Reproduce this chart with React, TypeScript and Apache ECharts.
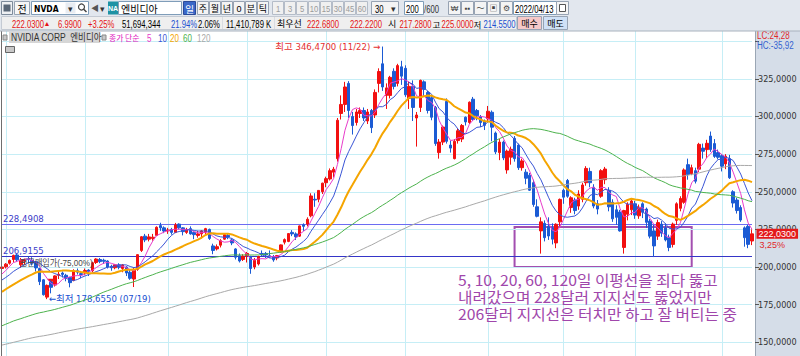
import React, { useEffect, useRef } from "react";
import * as echarts from "echarts";

const dates: string[] = [
  "2021/06/30",
  "2021/07/01","2021/07/02","2021/07/06","2021/07/07","2021/07/08","2021/07/09","2021/07/12","2021/07/13","2021/07/14","2021/07/15","2021/07/16","2021/07/19","2021/07/20","2021/07/21","2021/07/22","2021/07/23","2021/07/26","2021/07/27","2021/07/28","2021/07/29","2021/07/30",
  "2021/08/02","2021/08/03","2021/08/04","2021/08/05","2021/08/06","2021/08/09","2021/08/10","2021/08/11","2021/08/12","2021/08/13","2021/08/16","2021/08/17","2021/08/18","2021/08/19","2021/08/20","2021/08/23","2021/08/24","2021/08/25","2021/08/26","2021/08/27","2021/08/30","2021/08/31",
  "2021/09/01","2021/09/02","2021/09/03","2021/09/07","2021/09/08","2021/09/09","2021/09/10","2021/09/13","2021/09/14","2021/09/15","2021/09/16","2021/09/17","2021/09/20","2021/09/21","2021/09/22","2021/09/23","2021/09/24","2021/09/27","2021/09/28","2021/09/29","2021/09/30",
  "2021/10/01","2021/10/04","2021/10/05","2021/10/06","2021/10/07","2021/10/08","2021/10/11","2021/10/12","2021/10/13","2021/10/14","2021/10/15","2021/10/18","2021/10/19","2021/10/20","2021/10/21","2021/10/22","2021/10/25","2021/10/26","2021/10/27","2021/10/28","2021/10/29",
  "2021/11/01","2021/11/02","2021/11/03","2021/11/04","2021/11/05","2021/11/08","2021/11/09","2021/11/10","2021/11/11","2021/11/12","2021/11/15","2021/11/16","2021/11/17","2021/11/18","2021/11/19","2021/11/22","2021/11/23","2021/11/24","2021/11/26","2021/11/29","2021/11/30",
  "2021/12/01","2021/12/02","2021/12/03","2021/12/06","2021/12/07","2021/12/08","2021/12/09","2021/12/10","2021/12/13","2021/12/14","2021/12/15","2021/12/16","2021/12/17","2021/12/20","2021/12/21","2021/12/22","2021/12/23","2021/12/27","2021/12/28","2021/12/29","2021/12/30","2021/12/31",
  "2022/01/03","2022/01/04","2022/01/05","2022/01/06","2022/01/07","2022/01/10","2022/01/11","2022/01/12","2022/01/13","2022/01/14","2022/01/18","2022/01/19","2022/01/20","2022/01/21","2022/01/24","2022/01/25","2022/01/26","2022/01/27","2022/01/28","2022/01/31",
  "2022/02/01","2022/02/02","2022/02/03","2022/02/04","2022/02/07","2022/02/08","2022/02/09","2022/02/10","2022/02/11","2022/02/14","2022/02/15","2022/02/16","2022/02/17","2022/02/18","2022/02/22","2022/02/23","2022/02/24","2022/02/25","2022/02/28",
  "2022/03/01","2022/03/02","2022/03/03","2022/03/04","2022/03/07","2022/03/08","2022/03/09","2022/03/10","2022/03/11","2022/03/14","2022/03/15","2022/03/16","2022/03/17","2022/03/18","2022/03/21","2022/03/22","2022/03/23","2022/03/24","2022/03/25","2022/03/28","2022/03/29","2022/03/30","2022/03/31",
  "2022/04/01","2022/04/04","2022/04/05","2022/04/06","2022/04/07","2022/04/08","2022/04/11","2022/04/12","2022/04/13",
];

const opens: number[] = [
  199.0,
  200.1,202.5,205.0,208.0,201.5,204.0,205.5,204.5,203.5,199.0,191.5,180.0,190.0,188.0,194.5,196.0,194.5,193.0,191.0,197.5,195.6,
  196.0,198.0,197.5,203.0,205.0,204.5,204.0,200.5,199.5,201.5,199.0,200.0,196.5,192.0,198.5,211.0,220.5,218.5,219.0,221.0,227.5,226.0,
  224.0,225.0,223.0,228.5,226.0,223.0,225.5,223.0,221.0,222.0,223.5,225.0,214.0,212.0,214.5,218.5,221.0,218.0,212.0,207.5,205.0,
  207.5,207.0,200.0,202.0,209.0,209.0,207.5,207.0,206.0,210.0,216.5,217.0,223.0,222.0,220.5,228.0,228.5,234.0,245.0,245.0,250.0,
  256.0,258.5,263.0,272.0,302.0,308.0,322.0,300.0,296.0,302.0,304.0,297.0,304.0,301.0,322.0,335.0,314.0,314.0,330.0,322.0,333.0,
  332.0,312.0,320.0,299.0,306.0,323.0,316.0,312.5,306.0,276.0,283.0,310.0,281.0,272.0,284.0,285.0,299.5,296.0,311.5,304.0,300.0,297.0,
  298.5,302.8,289.0,276.0,283.0,264.5,273.0,285.5,281.0,266.0,263.0,261.0,256.0,240.0,224.0,229.0,227.0,226.0,216.0,230.0,
  251.0,257.5,239.5,244.5,240.5,245.0,256.0,263.5,253.0,242.0,247.0,258.0,251.0,243.0,238.0,236.5,213.0,235.0,238.0,
  242.0,234.0,242.0,238.5,230.5,224.0,220.5,228.5,226.0,219.5,215.0,231.0,239.0,243.0,268.0,262.0,264.0,265.0,279.0,278.0,287.0,282.0,276.0,
  274.0,268.5,272.0,250.0,244.5,239.5,226.0,227.0,217.28,
];

const closes: number[] = [
  200.0,
  201.9,204.4,207.7,204.8,204.7,204.6,204.9,202.6,199.4,190.3,181.6,187.8,186.5,194.1,195.2,195.1,192.9,189.6,197.3,196.6,195.0,
  197.7,197.1,202.8,205.3,203.6,203.8,200.0,199.5,201.5,199.8,201.4,196.0,192.5,197.9,208.2,220.1,218.0,220.0,219.8,226.4,226.0,223.9,
  224.6,223.0,228.0,226.0,223.5,224.5,222.0,221.5,222.0,224.0,225.5,219.0,211.0,213.5,217.5,221.5,220.0,216.0,206.5,204.0,207.2,
  209.0,199.0,204.5,207.0,208.3,208.0,206.6,204.7,207.6,214.7,218.2,222.2,222.0,220.0,227.3,227.0,231.7,247.2,244.5,250.9,255.7,
  258.7,264.0,265.0,297.5,308.0,319.6,304.0,294.0,303.0,304.0,299.0,303.0,292.6,316.0,329.9,319.6,319.0,326.0,320.0,333.8,326.8,
  314.4,320.0,306.0,301.0,324.0,318.0,304.0,299.5,282.0,283.0,293.0,283.5,279.0,283.5,290.5,294.0,296.4,309.5,298.0,300.5,296.0,294.1,
  303.5,292.9,276.5,283.0,272.5,277.0,278.2,272.0,266.0,270.5,259.0,251.0,241.5,233.7,230.0,219.5,220.6,218.5,228.4,244.9,
  246.4,247.0,246.0,237.5,248.5,254.5,265.5,256.0,240.5,238.5,264.0,265.1,240.0,232.0,233.0,224.0,237.5,241.6,243.9,
  234.5,239.7,236.4,229.7,220.5,214.0,229.5,222.5,218.0,213.0,228.5,242.0,245.5,264.5,261.5,266.0,257.0,281.5,276.9,282.2,278.0,273.5,272.9,
  267.0,273.6,259.3,242.5,237.5,231.2,219.5,215.04,222.03,
];

const lows: number[] = [
  197.6,
  199.0,201.6,203.0,203.3,199.5,201.5,202.3,201.0,197.0,188.0,181.0,178.655,182.5,187.0,192.0,193.0,190.5,186.5,190.5,195.0,192.5,
  194.5,194.0,196.5,202.0,202.5,202.0,199.0,197.5,198.5,198.5,196.5,194.0,191.5,186.7,197.5,210.0,216.5,217.0,217.5,220.5,224.0,222.5,
  222.0,221.5,222.5,225.0,221.0,222.0,221.5,218.5,219.5,219.0,221.5,218.0,208.5,211.0,213.0,218.0,218.5,214.5,205.0,203.0,204.0,
  203.0,195.5,198.5,201.0,207.0,206.0,206.0,203.5,204.5,209.5,215.0,216.5,220.5,218.0,220.0,224.0,227.0,233.0,240.0,243.0,248.5,
  253.0,257.5,259.5,270.0,298.0,303.0,299.0,288.0,294.0,299.0,297.0,295.0,289.0,299.0,316.0,317.0,305.0,312.0,318.0,320.0,321.0,
  313.0,305.0,297.0,280.0,303.0,313.0,302.0,297.5,280.5,272.0,281.0,282.0,276.0,271.5,282.0,283.0,294.0,295.0,297.0,297.5,293.0,291.0,
  297.0,283.5,275.0,271.0,271.0,262.0,268.0,270.0,264.5,264.0,255.0,250.5,240.0,233.0,208.9,217.0,218.0,215.0,212.5,227.0,
  242.0,246.0,236.0,235.0,238.0,243.0,254.0,253.0,239.0,235.0,246.0,255.0,237.0,230.0,228.0,223.5,208.9,231.0,234.5,
  232.0,232.0,232.5,226.0,219.0,206.6,218.0,220.0,217.0,210.5,213.0,228.0,237.0,242.0,258.0,261.0,255.5,263.0,272.0,272.5,276.5,272.5,271.5,
  263.5,265.0,258.5,239.5,235.5,230.0,213.5,212.5,214.55,
];

const highs: number[] = [
  201.0,
  202.6,205.0,208.2,208.75,206.0,205.6,207.0,206.5,204.0,199.5,192.0,188.4,191.0,194.5,197.5,197.0,195.5,193.5,198.5,199.0,196.5,
  199.0,198.5,203.5,205.8,206.0,205.5,204.5,201.5,202.0,202.5,202.0,200.5,198.0,199.5,208.5,220.5,222.0,222.0,222.0,227.0,229.4,227.0,
  226.0,226.0,229.3,229.0,226.5,226.0,227.0,223.5,224.0,224.5,226.0,225.5,215.5,215.0,218.5,222.5,222.0,219.0,212.5,209.0,208.5,
  210.0,207.5,206.0,207.5,211.0,210.0,211.0,208.0,208.0,215.0,219.0,222.5,224.5,223.0,227.6,229.0,233.0,249.0,249.0,251.0,256.0,
  260.0,265.5,266.5,299.0,314.0,323.0,323.5,303.0,305.0,306.0,306.0,305.0,305.0,318.0,332.0,346.47,322.0,327.0,332.0,335.0,337.0,
  334.0,323.0,324.0,303.0,324.5,324.0,317.0,314.0,307.0,285.0,294.0,312.0,284.0,285.0,292.0,295.0,300.0,310.0,313.0,305.0,301.0,298.0,
  307.0,304.0,290.0,285.0,284.0,278.0,280.0,287.0,282.0,272.0,265.0,262.5,258.0,245.0,233.0,231.0,233.0,229.0,229.0,245.5,
  252.0,258.5,247.0,246.0,251.0,256.0,267.0,266.0,255.0,244.5,265.0,266.5,253.0,245.0,241.0,238.0,238.0,243.0,245.0,
  244.0,241.5,243.0,239.5,232.0,228.0,231.5,230.5,229.0,221.5,229.5,243.0,247.0,265.5,272.0,268.0,266.0,282.5,282.0,284.5,290.0,285.0,278.0,
  275.0,275.0,274.5,251.0,246.0,241.0,227.0,228.0,225.0,
];

// closes before the visible window (Jan-Jun 2021), used for the moving averages
const prevCloses: number[] = [
  131.1,133.6,125.9,133.4,132.8,135.4,131.7,133.8,130.8,127.9,130.1,135.6,137.4,137.6,136.7,134.0,129.6,132.6,129.9,
  132.0,135.1,134.5,136.8,136.6,145.1,148.8,149.1,150.6,149.9,149.1,147.2,147.7,147.3,141.5,141.7,144.5,134.7,137.2,
  138.8,136.0,128.8,127.4,129.3,119.3,129.6,127.4,134.3,131.5,133.5,135.0,131.9,125.3,128.2,132.8,133.5,128.0,126.3,129.6,128.7,130.8,133.5,
  137.3,138.9,137.7,139.7,143.3,144.9,154.0,158.8,153.0,155.0,154.0,152.5,151.6,154.4,150.9,156.3,157.0,153.9,152.1,152.2,150.1,
  145.9,143.1,141.9,143.3,146.4,136.9,139.5,134.6,140.1,144.6,145.1,141.2,143.4,146.8,144.9,152.8,155.6,157.7,157.0,162.4,
  163.1,169.2,166.9,173.4,176.2,176.5,175.4,176.9,177.3,179.3,175.4,178.1,185.3,186.1,186.6,188.8,190.2,190.6,190.8,194.9,200.7,
];

const maPeriods = [5, 10, 20, 60, 120];
const maColors = ["#e83ccb", "#3a55d6", "#f5a500", "#4db34d", "#a9a9a9"];
const maWidths = [1, 1, 2, 1, 1];

const supportLevels = [228.4908, 206.9155];
const supportLabels = ["228,4908", "206,9155"];
const supportColors = ["#6c6cf2", "#3535c8"];

const highIndex = 101;
const highValue = 346.47;
const highLabel = "최고 346,4700 (11/22) →";
const lowIndex = 12;
const lowValue = 178.655;
const lowLabel = "←최저 178,6550 (07/19)";
const buyMarkIndex = 13;
const buyMarkValue = 190.6;
const lastIndex = 199;
const lastPrice = 222.03;
const lastPriceLabel = "222,0300";
const lastChangeLabel = "3,25%";

const boxFrom = 136;
const boxTo = 183;
const boxTop = 226.6;
const boxBottom = 200;

const noteLines = [
  "5, 10, 20, 60, 120일 이평선을 죄다 뚫고",
  "내려갔으며 228달러 지지선도 뚫었지만",
  "206달러 지지선은 터치만 하고 잘 버티는 중",
];

const NUM = "'Liberation Sans',sans-serif";
const KR = "'Noto Sans CJK KR',sans-serif";
const MIX = "'Liberation Sans','Noto Sans CJK KR',sans-serif";

function txt(x: number, y: number, text: string, fill: string, size = 10, family = MIX, align = "left", weight = "normal", z = 101, sx = 1) {
  return { type: "text", x, y, z, scaleX: sx, silent: true, style: { text, fill, fontSize: size, fontFamily: family, fontWeight: weight, align, verticalAlign: "middle" } };
}
// condensed numeric text (the HTS font is narrow)
function ntxt(x: number, y: number, text: string, fill: string, size = 11, z = 101, align = "left") {
  return txt(x, y, text, fill, size, MIX, align, "normal", z, 0.7);
}
function box(x: number, y: number, w: number, h: number, fill: string, stroke?: string, z = 100) {
  return { type: "rect", z, silent: true, shape: { x, y, width: w, height: h }, style: { fill, stroke: stroke || "none", lineWidth: 1 } };
}

function movingAverage(n: number): number[] {
  const all = [...prevCloses, ...closes];
  return closes.map((_, i) => {
    const end = prevCloses.length + i;
    let s = 0;
    for (let k = end - n + 1; k <= end; k++) s += all[k];
    return +(s / n).toFixed(2);
  });
}

function buildGraphics() {
  const g: any[] = [];
  // toolbar background
  g.push(box(0, 0, 800, 31, "#e2e7ee"));
  // row 1
  g.push(box(1.5, 1.5, 11, 13, "#eef0f3", "#7d8b9b"));
  g.push(box(3.5, 4.5, 7, 7, "#5a6878"));
  g.push(box(14.5, 1.5, 15, 13, "#f6f6f6", "#97a3b3"));
  g.push(txt(22, 8.5, "전", "#000", 10, KR, "center"));
  g.push(box(31.5, 1.5, 57, 13, "#ffffff", "#7f9db9"));
  g.push(txt(34, 8.5, "NVDA", "#000", 9, "'DejaVu Sans',sans-serif", "left", "bold", 101, 0.85));
  g.push(box(65.5, 2.5, 10, 11, "#e8ecf2"));
  g.push(txt(70.5, 8.5, "▾", "#333", 9, MIX, "center"));
  g.push({ type: "circle", z: 101, shape: { cx: 81.5, cy: 7, r: 3 }, style: { fill: "none", stroke: "#444", lineWidth: 1.2 } });
  g.push({ type: "line", z: 101, shape: { x1: 83.5, y1: 9, x2: 86.5, y2: 12 }, style: { stroke: "#444", lineWidth: 1.5 } });
  g.push(txt(91, 8.5, "◀", "#555", 8, MIX));
  g.push(txt(100, 8.5, "▾", "#333", 9, MIX));
  g.push(box(108, 1.5, 10, 13, "#1e92a4"));
  g.push(txt(113, 8.5, "NA", "#fff", 7, NUM, "center", "bold"));
  g.push(box(118.5, 1.5, 63, 13, "#ffffff", "#7f9db9"));
  g.push(txt(121, 8.5, "엔비디아", "#000", 10, KR));
  g.push(box(183.5, 1.5, 12, 13, "#3a68c8", "#2a4a98"));
  g.push(txt(189.5, 8.5, "일", "#fff", 9.5, KR, "center"));
  const periodBtns = ["주", "월", "년", "0", "분", "틱"];
  periodBtns.forEach((t, i) => {
    const x = 197.5 + i * 12;
    g.push(box(x, 1.5, 11, 13, "#f4f4f4", "#97a3b3"));
    g.push(txt(x + 5.5, 8.5, t, "#000", 9, MIX, "center"));
  });
  const numBtns = ["1", "3", "5", "10", "15", "30", "45", "60"];
  numBtns.forEach((t, i) => {
    const x = 272.5 + i * 12;
    g.push(box(x, 1.5, 11, 13, "#f0f0f0", "#b4bcc8"));
    g.push(txt(x + 5.5, 8.5, t, "#9a9a9a", 9, NUM, "center", "normal", 101, 0.85));
  });
  g.push(box(371.5, 1.5, 27, 13, "#f4f4f4", "#97a3b3"));
  g.push(ntxt(375, 8.5, "30", "#000"));
  g.push(txt(391, 8.5, "▾", "#333", 9, MIX));
  g.push(box(404.5, 1.5, 19, 13, "#ffffff", "#7f9db9"));
  g.push(ntxt(406, 8.5, "200", "#000"));
  g.push(ntxt(424, 8.5, "/600", "#333"));
  const icons = ["₩", "▪▪", "〜", "▣", "⚙"];
  icons.forEach((t, i) => {
    const x = 448.5 + i * 13;
    g.push(box(x, 1.5, 12, 13, "#f4f4f4", "#97a3b3"));
    g.push(txt(x + 6, 8.5, t, "#444", 8, MIX, "center"));
  });
  g.push(box(513.5, 1.5, 43, 13, "#ffffff", "#7f9db9"));
  g.push(ntxt(515, 8.5, "2022/04/13", "#000"));
  g.push(box(556.5, 1.5, 12, 13, "#f4f4f4", "#97a3b3"));
  g.push(box(559.5, 4.5, 6, 7, "#fff", "#555"));
  // row 2
  g.push(box(1.5, 16.5, 515, 13, "#efefef", "#c4cad3"));
  const y2 = 23.5;
  g.push(ntxt(12, y2, "222.0300", "#e41414"));
  g.push(txt(43.5, y2, "▲", "#e41414", 7, MIX));
  g.push(ntxt(58, y2, "6.9900", "#e41414"));
  g.push(ntxt(88, y2, "+3.25%", "#e41414"));
  g.push(ntxt(122, y2, "51,694,344", "#000"));
  g.push(ntxt(171, y2, "21.94%", "#2050d0"));
  g.push(ntxt(198, y2, "2.06%", "#000"));
  g.push(box(222.5, 16.5, 0.5, 13, "#c4cad3"));
  g.push(ntxt(226, y2, "11,410,789 K", "#000"));
  g.push(box(274.5, 16.5, 0.5, 13, "#c4cad3"));
  g.push(txt(277, y2, "최우선", "#000", 9, KR));
  g.push(ntxt(307, y2, "222.6800", "#e41414"));
  g.push(ntxt(350, y2, "222.2200", "#e41414"));
  g.push(txt(388, y2, "시", "#000", 9, KR));
  g.push(ntxt(399.5, y2, "217.2800", "#e41414"));
  g.push(txt(432.5, y2, "고", "#000", 8.5, KR));
  g.push(ntxt(441.5, y2, "225.0000", "#e41414"));
  g.push(txt(473.5, y2, "저", "#000", 8.5, KR));
  g.push(ntxt(483.5, y2, "214.5500", "#2050d0"));
  g.push(box(517.5, 16.5, 24, 13, "#f6c9c9", "#97a3b3"));
  g.push(txt(529.5, y2, "매수", "#000", 9, KR, "center"));
  g.push(box(543.5, 16.5, 24, 13, "#cfe1f6", "#97a3b3"));
  g.push(txt(555.5, y2, "매도", "#000", 9, KR, "center"));
  g.push({ type: "line", z: 101, shape: { x1: 0, y1: 31, x2: 800, y2: 31 }, style: { stroke: "#a9b2be", lineWidth: 1 } });

  // right price strip
  g.push({ type: "rect", z: 1, silent: true, shape: { x: 755, y: 31, width: 45, height: 325 }, style: { fill: "#d5dde8" } });
  g.push({ type: "line", z: 1, shape: { x1: 755.5, y1: 31, x2: 755.5, y2: 356 }, style: { stroke: "#9aa6b4", lineWidth: 1 } });
  g.push(ntxt(757, 35, "LC:24,28", "#e02828", 11.5, 20));
  g.push(ntxt(757, 45, "HC:-35,92", "#3462d0", 11.5, 20));

  // left frame
  g.push({ type: "line", z: 20, shape: { x1: 1.5, y1: 31, x2: 1.5, y2: 356 }, style: { stroke: "#6e6e6e", lineWidth: 1 } });

  // legend row
  g.push(box(3, 35, 4, 5, "#c8c8c8", "#888", 20));
  g.push(box(9, 32, 91, 11, "#d6d6d6", undefined, 20));
  g.push(txt(11, 37.5, "NVIDIA CORP  엔비디아", "#333", 10, MIX, "left", "normal", 21, 0.85));
  g.push(box(102, 35, 4, 5, "#c8c8c8", "#888", 20));
  g.push(txt(109, 37.5, "종가 단순", "#e020c0", 8.5, KR, "left", "normal", 21, 0.92));
  const legendNums = ["5", "10", "20", "60", "120"];
  const legendX = [147, 158, 170, 183, 197];
  legendNums.forEach((t, i) => g.push(ntxt(legendX[i], 37.5, t, maColors[i], 11.5, 21)));
  g.push(box(5.5, 46.5, 9, 6, "#c8c8c8", "#666", 20));

  // buy-price caption
  g.push(txt(20, 263, "평균매입가(-75,00%)", "#4a4a4a", 9, MIX, "left", "normal", 20, 0.9));

  // commentary
  noteLines.forEach((t, i) => g.push(txt(458, 279 + i * 17.3, t, "#a046ab", 15, KR, "left", "normal", 20, 1.05)));
  return g;
}

export default function App() {
  const ref = useRef<HTMLDivElement>(null);
  useEffect(() => {
    if (!ref.current) return;
    const chart = echarts.init(ref.current, undefined, { renderer: "svg" });
    const ohlc = dates.map((_, i) => [opens[i], closes[i], lows[i], highs[i]]);
    const monthStart = (i: number) => i > 0 && dates[i].slice(5, 7) !== dates[i - 1].slice(5, 7);
    const maSeries = maPeriods.map((p, k) => ({
      type: "line",
      name: "MA" + p,
      data: movingAverage(p),
      showSymbol: false,
      symbol: "none",
      clip: false,
      z: 6,
      lineStyle: { color: maColors[k], width: maWidths[k] },
      silent: true,
    }));
    chart.setOption({
      animation: false,
      backgroundColor: "#ffffff",
      grid: { left: 2, right: 48, top: 3.6, height: 376.3, outerBoundsMode: "none", containLabel: false },
      xAxis: {
        type: "category",
        data: dates,
        boundaryGap: false,
        axisLine: { show: false },
        axisTick: { show: false },
        axisLabel: { show: false },
        splitLine: { show: true, interval: (i: number) => monthStart(i), lineStyle: { color: "#c6eef6", width: 1 } },
      },
      yAxis: {
        type: "value",
        position: "right",
        offset: 3,
        min: 125,
        max: 375,
        interval: 25,
        z: 2,
        axisLine: { show: false },
        axisTick: { show: true, length: 4, lineStyle: { color: "#555" } },
        axisLabel: {
          margin: 3,
          color: "#333",
          fontSize: 9,
          fontFamily: "'Liberation Sans Narrow','DejaVu Sans Condensed','Liberation Sans',sans-serif",
          formatter: (v: number) => (v >= 150 && v <= 325 ? v.toFixed(4).replace(".", ",") : ""),
        },
        splitLine: { show: true, lineStyle: { color: "#c6eef6", width: 1 } },
      },
      graphic: buildGraphics(),
      series: [
        {
          type: "candlestick",
          data: ohlc,
          barWidth: 3,
          clip: false,
          z: 5,
          silent: true,
          itemStyle: { color: "#f21010", color0: "#1b5bd4", borderColor: "#f21010", borderColor0: "#1b5bd4", borderWidth: 1 },
          markLine: {
            symbol: "none",
            silent: true,
            animation: false,
            data: supportLevels.map((v, i) => ({
              yAxis: v,
              lineStyle: { color: supportColors[i], width: 1, type: "solid" },
              label: { show: true, position: "insideStartTop", formatter: supportLabels[i], color: "#3b3bc8", fontSize: 9.5, fontFamily: "'Liberation Sans Narrow','DejaVu Sans Condensed',sans-serif", distance: [1, 1] },
            })),
          },
          markArea: {
            silent: true,
            data: [[
              { coord: [dates[boxFrom], boxTop], itemStyle: { color: "rgba(0,0,0,0)", borderColor: "#a34fb0", borderWidth: 2 } },
              { coord: [dates[boxTo], boxBottom] },
            ]],
          },
          markPoint: {
            silent: true,
            animation: false,
            data: [
              {
                coord: [dates[highIndex], highValue], symbol: "circle", symbolSize: 1, itemStyle: { color: "rgba(0,0,0,0)" },
                label: { show: true, position: "left", distance: 2, formatter: highLabel, color: "#e43030", fontSize: 9.5, fontFamily: "'Liberation Sans Narrow','DejaVu Sans Condensed','Noto Sans CJK KR',sans-serif" },
              },
              {
                coord: [dates[lowIndex], lowValue], symbol: "circle", symbolSize: 1, itemStyle: { color: "rgba(0,0,0,0)" },
                label: { show: true, position: "right", distance: 1, offset: [0, -1], formatter: lowLabel, color: "#2050d0", fontSize: 9.5, fontFamily: "'Liberation Sans Narrow','DejaVu Sans Condensed','Noto Sans CJK KR',sans-serif" },
              },
              {
                coord: [dates[buyMarkIndex], buyMarkValue], symbol: "triangle", symbolRotate: 180, symbolSize: [8, 5], itemStyle: { color: "#f01818" },
                label: { show: false },
              },
              {
                coord: [dates[lastIndex], lastPrice], symbol: "circle", symbolSize: 1, itemStyle: { color: "rgba(0,0,0,0)" },
                label: { show: true, position: "right", distance: 4, formatter: lastPriceLabel, color: "#ffffff", backgroundColor: "#e3191b", padding: [1, 2, 0, 2], fontSize: 9, fontFamily: "'Liberation Sans',sans-serif" },
              },
              {
                coord: [dates[lastIndex], lastPrice], symbol: "circle", symbolSize: 1, itemStyle: { color: "rgba(0,0,0,0)" },
                label: { show: true, position: "right", distance: 7, offset: [0, 11], formatter: lastChangeLabel, color: "#e02828", fontSize: 9, fontFamily: "'Liberation Sans',sans-serif" },
              },
            ],
          },
        },
        ...maSeries,
      ],
    });
    return () => chart.dispose();
  }, []);
  return <div ref={ref} style={{ position: "fixed", left: 0, top: 0, width: 800, height: 356, background: "#fff" }} />;
}
